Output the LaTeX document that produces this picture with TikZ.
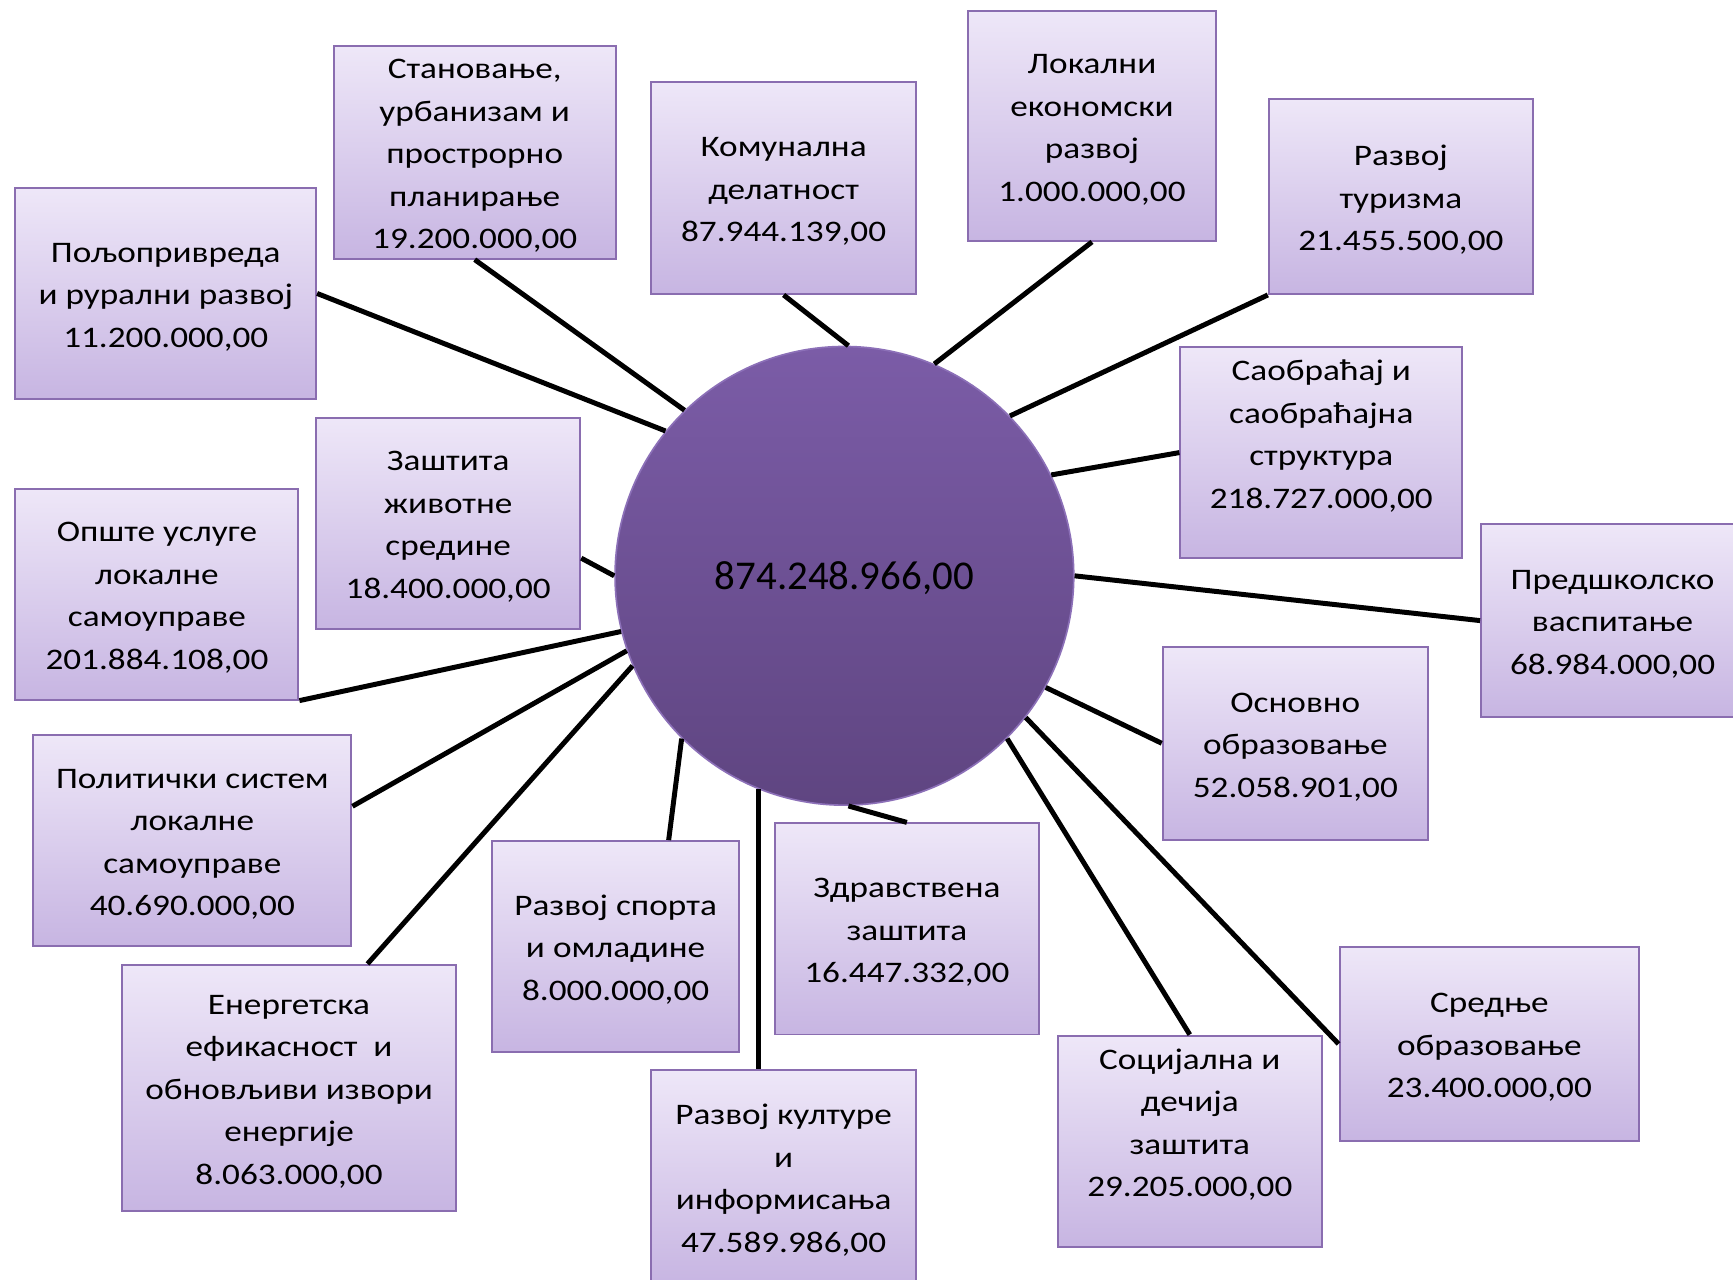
\documentclass[tikz,border=0pt]{standalone}
\usepackage{fontspec}
\setmainfont{Carlito}
\newfontfamily\boxfont[FakeStretch=1.18]{Carlito}
\usetikzlibrary{calc}
\definecolor{boxtop}{HTML}{EEE7F8}
\definecolor{boxbot}{HTML}{C7B5E2}
\definecolor{boxline}{HTML}{8A6DB0}
\definecolor{circtop}{HTML}{7B5CA7}
\definecolor{circbot}{HTML}{5F4581}
\definecolor{circline}{HTML}{8C70B8}
\newcommand\tst{\rule{0pt}{25.5pt}}
\tikzset{
  budget/.style={draw=boxline, line width=1.8pt, top color=boxtop, bottom color=boxbot,
    inner sep=0pt, align=center, font=\boxfont\fontsize{27}{38.5}\selectfont,
    execute at end node={\rule[-#1]{0pt}{#1}}},
  budget/.default=5pt,
  total/.style={circle, draw=circline, line width=1.5pt, top color=circtop, bottom color=circbot,
    minimum size=415pt, inner sep=0pt, font=\fontsize{37}{44}\selectfont},
  link/.style={line width=4.5pt, draw=black}
}
\begin{document}
\begin{tikzpicture}[x=1pt,y=-1pt]
\useasboundingbox (0,0) rectangle (1568,1158);
\clip (0,0) rectangle (1568,1158);
\fill[white] (0,0) rectangle (1568,1158);
\node[total] (c) at (764,521) {\raisebox{-2.5pt}[\height][\depth]{874.248.966,00}};
\node[budget, minimum width=272pt, minimum height=191pt] (b1) at (150,265.5) {\tst Пољопривреда\\и рурални развој\\11.200.000,00};
\node[budget, minimum width=255pt, minimum height=192pt] (b2) at (429.5,138) {\tst Становање,\\урбанизам и\\прострорно\\планирање\\19.200.000,00};
\node[budget, minimum width=240pt, minimum height=192pt] (b3) at (709,170) {\tst Комунална\\делатност\\87.944.139,00};
\node[budget, minimum width=224pt, minimum height=208pt] (b4) at (988,114) {\tst Локални\\економски\\развој\\1.000.000,00};
\node[budget, minimum width=239pt, minimum height=176pt] (b5) at (1267.5,178) {\tst Развој\\туризма\\21.455.500,00};
\node[budget=40.5pt, minimum width=255pt, minimum height=191pt] (b6) at (1195.5,409.5) {\tst Саобраћај и\\саобраћајна\\структура\\218.727.000,00};
\node[budget, minimum width=238pt, minimum height=175pt] (b7) at (1459,561.5) {\tst Предшколско\\васпитање\\68.984.000,00};
\node[budget, minimum width=240pt, minimum height=175pt] (b8) at (1172,672.5) {\tst Основно\\образовање\\52.058.901,00};
\node[budget, minimum width=271pt, minimum height=175pt] (b9) at (1347.5,944.5) {\tst Средње\\образовање\\23.400.000,00};
\node[budget=40.5pt, minimum width=239pt, minimum height=191pt] (b10) at (1076.5,1032.5) {\tst Социјална и\\дечија\\заштита\\29.205.000,00};
\node[budget, minimum width=239pt, minimum height=191pt] (b11) at (820.5,840.5) {\tst Здравствена\\заштита\\16.447.332,00};
\node[budget, minimum width=240pt, minimum height=194pt] (b12) at (709,1065) {\tst Развој културе\\и\\информисања\\47.589.986,00};
\node[budget, minimum width=224pt, minimum height=191pt] (b13) at (557,856.5) {\tst Развој спорта\\и омладине\\8.000.000,00};
\node[budget, minimum width=303pt, minimum height=223pt] (b14) at (261.5,984.5) {\tst Енергетска\\ефикасност\ \ и\\обновљиви извори\\енергије\\8.063.000,00};
\node[budget, minimum width=288pt, minimum height=191pt] (b15) at (174,760.5) {\tst Политички систем\\локалне\\самоуправе\\40.690.000,00};
\node[budget, minimum width=256pt, minimum height=191pt] (b16) at (142,537.5) {\tst Опште услуге\\локалне\\самоуправе\\201.884.108,00};
\node[budget, minimum width=239pt, minimum height=191pt] (b17) at (405.5,473.5) {\tst Заштита\\животне\\средине\\18.400.000,00};
\draw[link] (b1.east) -- (c.141);
\draw[link] (b2.south) -- (c.134.6);
\draw[link] (b3.south) -- (c.89.7);
\draw[link] (b4.south) -- (c.67);
\draw[link] (b5.south west) -- (c.44.8);
\draw[link] (b6.west) -- (c.26);
\draw[link] (b7.west) -- (c.0);
\draw[link] (b8.west) -- (c.-29);
\draw[link] (b9.west) -- (c.-38.7);
\draw[link] (b10.north) -- (c.-45.6);
\draw[link] (b11.north) -- (c.-89.7);
\draw[link] (c.-112.3) -- (c.-112.3 |- b12.north);
\draw[link] ($(b13.north)+(48,0)$) -- (c.-135);
\draw[link] ($(b14.north)+(71,0)$) -- (c.-157.3);
\draw[link] ($(b15.east)+(0,-31)$) -- (c.-161.7);
\draw[link] (b16.south east) -- (c.-166.7);
\draw[link] ($(b17.east)+(0,31.5)$) -- (c.180);
\end{tikzpicture}
\end{document}
